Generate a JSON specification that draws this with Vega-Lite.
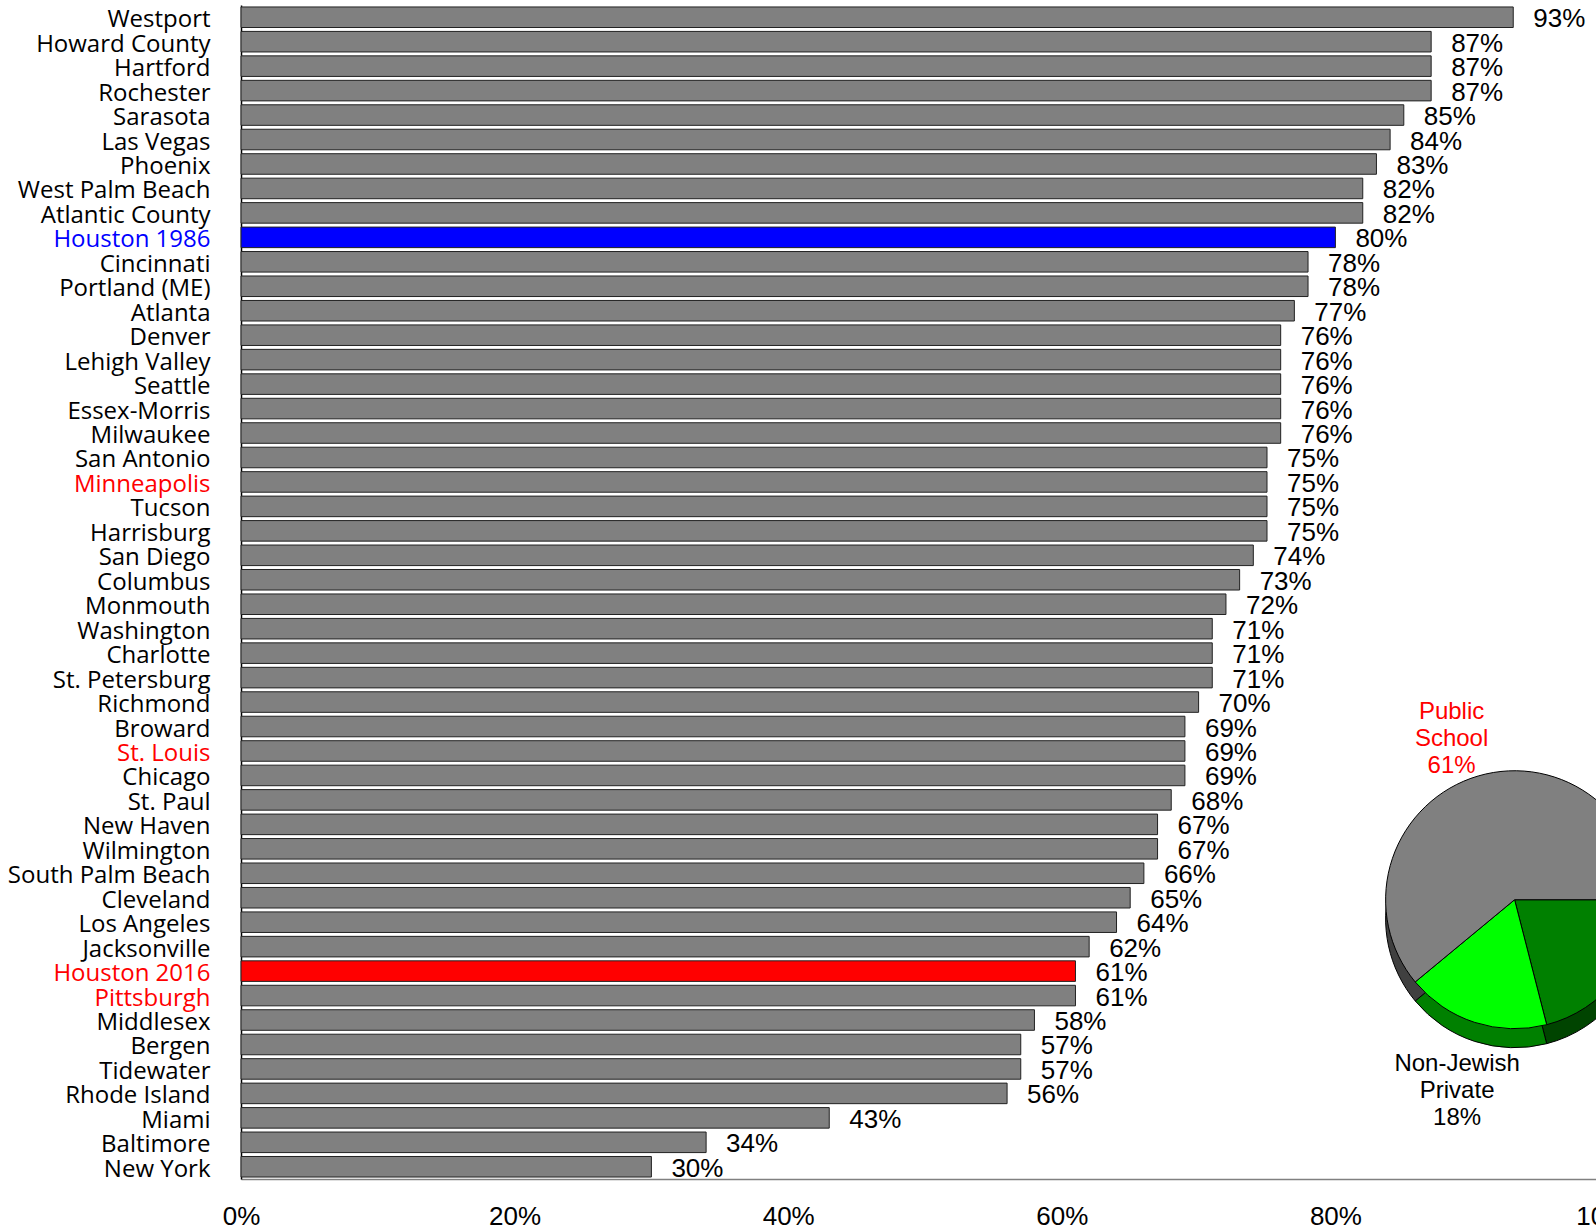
{
  "$schema": "https://vega.github.io/schema/vega-lite/v6.json",
  "width": 1368,
  "height": 1174,
  "autosize": {"type": "none"},
  "padding": {"left": 241, "top": 5, "right": 0, "bottom": 49},
  "background": "white",
  "config": {"view": {"stroke": null}, "axis": {"grid": false}},
  "datasets": {
    "cities": [
      {"city": "Westport", "pct": 0.93, "group": "base"},
      {"city": "Howard County", "pct": 0.87, "group": "base"},
      {"city": "Hartford", "pct": 0.87, "group": "base"},
      {"city": "Rochester", "pct": 0.87, "group": "base"},
      {"city": "Sarasota", "pct": 0.85, "group": "base"},
      {"city": "Las Vegas", "pct": 0.84, "group": "base"},
      {"city": "Phoenix", "pct": 0.83, "group": "base"},
      {"city": "West Palm Beach", "pct": 0.82, "group": "base"},
      {"city": "Atlantic County", "pct": 0.82, "group": "base"},
      {"city": "Houston 1986", "pct": 0.80, "group": "1986"},
      {"city": "Cincinnati", "pct": 0.78, "group": "base"},
      {"city": "Portland (ME)", "pct": 0.78, "group": "base"},
      {"city": "Atlanta", "pct": 0.77, "group": "base"},
      {"city": "Denver", "pct": 0.76, "group": "base"},
      {"city": "Lehigh Valley", "pct": 0.76, "group": "base"},
      {"city": "Seattle", "pct": 0.76, "group": "base"},
      {"city": "Essex-Morris", "pct": 0.76, "group": "base"},
      {"city": "Milwaukee", "pct": 0.76, "group": "base"},
      {"city": "San Antonio", "pct": 0.75, "group": "base"},
      {"city": "Minneapolis", "pct": 0.75, "group": "peer"},
      {"city": "Tucson", "pct": 0.75, "group": "base"},
      {"city": "Harrisburg", "pct": 0.75, "group": "base"},
      {"city": "San Diego", "pct": 0.74, "group": "base"},
      {"city": "Columbus", "pct": 0.73, "group": "base"},
      {"city": "Monmouth", "pct": 0.72, "group": "base"},
      {"city": "Washington", "pct": 0.71, "group": "base"},
      {"city": "Charlotte", "pct": 0.71, "group": "base"},
      {"city": "St. Petersburg", "pct": 0.71, "group": "base"},
      {"city": "Richmond", "pct": 0.70, "group": "base"},
      {"city": "Broward", "pct": 0.69, "group": "base"},
      {"city": "St. Louis", "pct": 0.69, "group": "peer"},
      {"city": "Chicago", "pct": 0.69, "group": "base"},
      {"city": "St. Paul", "pct": 0.68, "group": "base"},
      {"city": "New Haven", "pct": 0.67, "group": "base"},
      {"city": "Wilmington", "pct": 0.67, "group": "base"},
      {"city": "South Palm Beach", "pct": 0.66, "group": "base"},
      {"city": "Cleveland", "pct": 0.65, "group": "base"},
      {"city": "Los Angeles", "pct": 0.64, "group": "base"},
      {"city": "Jacksonville", "pct": 0.62, "group": "base"},
      {"city": "Houston 2016", "pct": 0.61, "group": "2016"},
      {"city": "Pittsburgh", "pct": 0.61, "group": "peer"},
      {"city": "Middlesex", "pct": 0.58, "group": "base"},
      {"city": "Bergen", "pct": 0.57, "group": "base"},
      {"city": "Tidewater", "pct": 0.57, "group": "base"},
      {"city": "Rhode Island", "pct": 0.56, "group": "base"},
      {"city": "Miami", "pct": 0.43, "group": "base"},
      {"city": "Baltimore", "pct": 0.34, "group": "base"},
      {"city": "New York", "pct": 0.30, "group": "base"}
    ],
    "pie": [
      {"school": "Jewish Day School", "share": 0.21, "ord": 1},
      {"school": "Non-Jewish Private", "share": 0.18, "ord": 2},
      {"school": "Public School", "share": 0.61, "ord": 3}
    ]
  },
  "resolve": {"scale": {"color": "independent"}},
  "layer": [
    {
      "data": {"name": "cities"},
      "mark": {"type": "bar", "stroke": "#222222", "strokeWidth": 1},
      "encoding": {
        "y": {
          "field": "city", "type": "nominal", "sort": null,
          "scale": {"paddingInner": 0.16, "paddingOuter": 0.08},
          "axis": {
            "title": null, "ticks": false, "labelPadding": 31, "labelOffset": 3,
            "labelFont": "Open Sans", "labelFontSize": 24, "labelLimit": 0,
            "domainColor": "#000000", "domainWidth": 1.5,
            "labelColor": {
              "condition": [
                {"test": "datum.value === 'Houston 1986'", "value": "#0000ff"},
                {"test": "datum.value === 'Minneapolis' || datum.value === 'St. Louis' || datum.value === 'Houston 2016' || datum.value === 'Pittsburgh'", "value": "#ff0000"}
              ],
              "value": "#000000"
            }
          }
        },
        "x": {
          "field": "pct", "type": "quantitative",
          "scale": {"domain": [0, 1], "nice": false},
          "axis": {
            "title": null, "values": [0, 0.2, 0.4, 0.6, 0.8, 1.0], "format": ".0%",
            "ticks": false, "labelFont": "Liberation Sans", "labelFontSize": 26,
            "labelPadding": 24, "labelFlush": false, "labelOverlap": false,
            "labelColor": "#000000", "domainColor": "#808080", "domainWidth": 1.5
          }
        },
        "color": {
          "field": "group", "type": "nominal", "legend": null,
          "scale": {"domain": ["base", "peer", "1986", "2016"], "range": ["#808080", "#808080", "#0000ff", "#ff0000"]}
        }
      }
    },
    {
      "data": {"name": "cities"},
      "mark": {"type": "text", "align": "left", "baseline": "middle", "dx": 20, "dy": 2, "font": "Liberation Sans", "fontSize": 26, "color": "#000000"},
      "encoding": {
        "y": {"field": "city", "type": "nominal", "sort": null},
        "x": {"field": "pct", "type": "quantitative"},
        "text": {"field": "pct", "type": "quantitative", "format": ".0%"}
      }
    },
    {
      "data": {"name": "pie"},
      "mark": {"type": "arc", "radius": 129, "yOffset": 21, "stroke": "#000000", "strokeWidth": 1},
      "encoding": {
        "x": {"datum": 0.931, "type": "quantitative"},
        "y": {"datum": "Cleveland", "type": "nominal"},
        "theta": {"field": "share", "type": "quantitative", "stack": true, "scale": {"range": [1.5708, 7.854]}},
        "order": {"field": "ord", "type": "quantitative"},
        "color": {
          "field": "school", "type": "nominal", "legend": null,
          "scale": {"domain": ["Public School", "Non-Jewish Private", "Jewish Day School"], "range": ["#404040", "#008000", "#004400"]}
        }
      }
    },
    {
      "data": {"name": "pie"},
      "mark": {"type": "arc", "radius": 129, "yOffset": 2, "stroke": "#000000", "strokeWidth": 1},
      "encoding": {
        "x": {"datum": 0.931, "type": "quantitative"},
        "y": {"datum": "Cleveland", "type": "nominal"},
        "theta": {"field": "share", "type": "quantitative", "stack": true},
        "order": {"field": "ord", "type": "quantitative"},
        "color": {
          "field": "school", "type": "nominal", "legend": null,
          "scale": {"domain": ["Public School", "Non-Jewish Private", "Jewish Day School"], "range": ["#808080", "#00ff00", "#008000"]}
        }
      }
    },
    {
      "data": {"name": "pie"},
      "transform": [{"calculate": "datum.school + ' ' + format(datum.share, '.0%')", "as": "lab"}],
      "mark": {"type": "text", "radius": 186, "yOffset": -11, "font": "Liberation Sans", "fontSize": 24, "lineBreak": " ", "lineHeight": 27, "align": "center", "baseline": "middle"},
      "encoding": {
        "x": {"datum": 0.931, "type": "quantitative"},
        "y": {"datum": "Cleveland", "type": "nominal"},
        "theta": {"field": "share", "type": "quantitative", "stack": true},
        "order": {"field": "ord", "type": "quantitative"},
        "text": {"field": "lab", "type": "nominal"},
        "color": {
          "field": "school", "type": "nominal", "legend": null,
          "scale": {"domain": ["Public School", "Non-Jewish Private", "Jewish Day School"], "range": ["#ff0000", "#000000", "#000000"]}
        }
      }
    }
  ]
}
